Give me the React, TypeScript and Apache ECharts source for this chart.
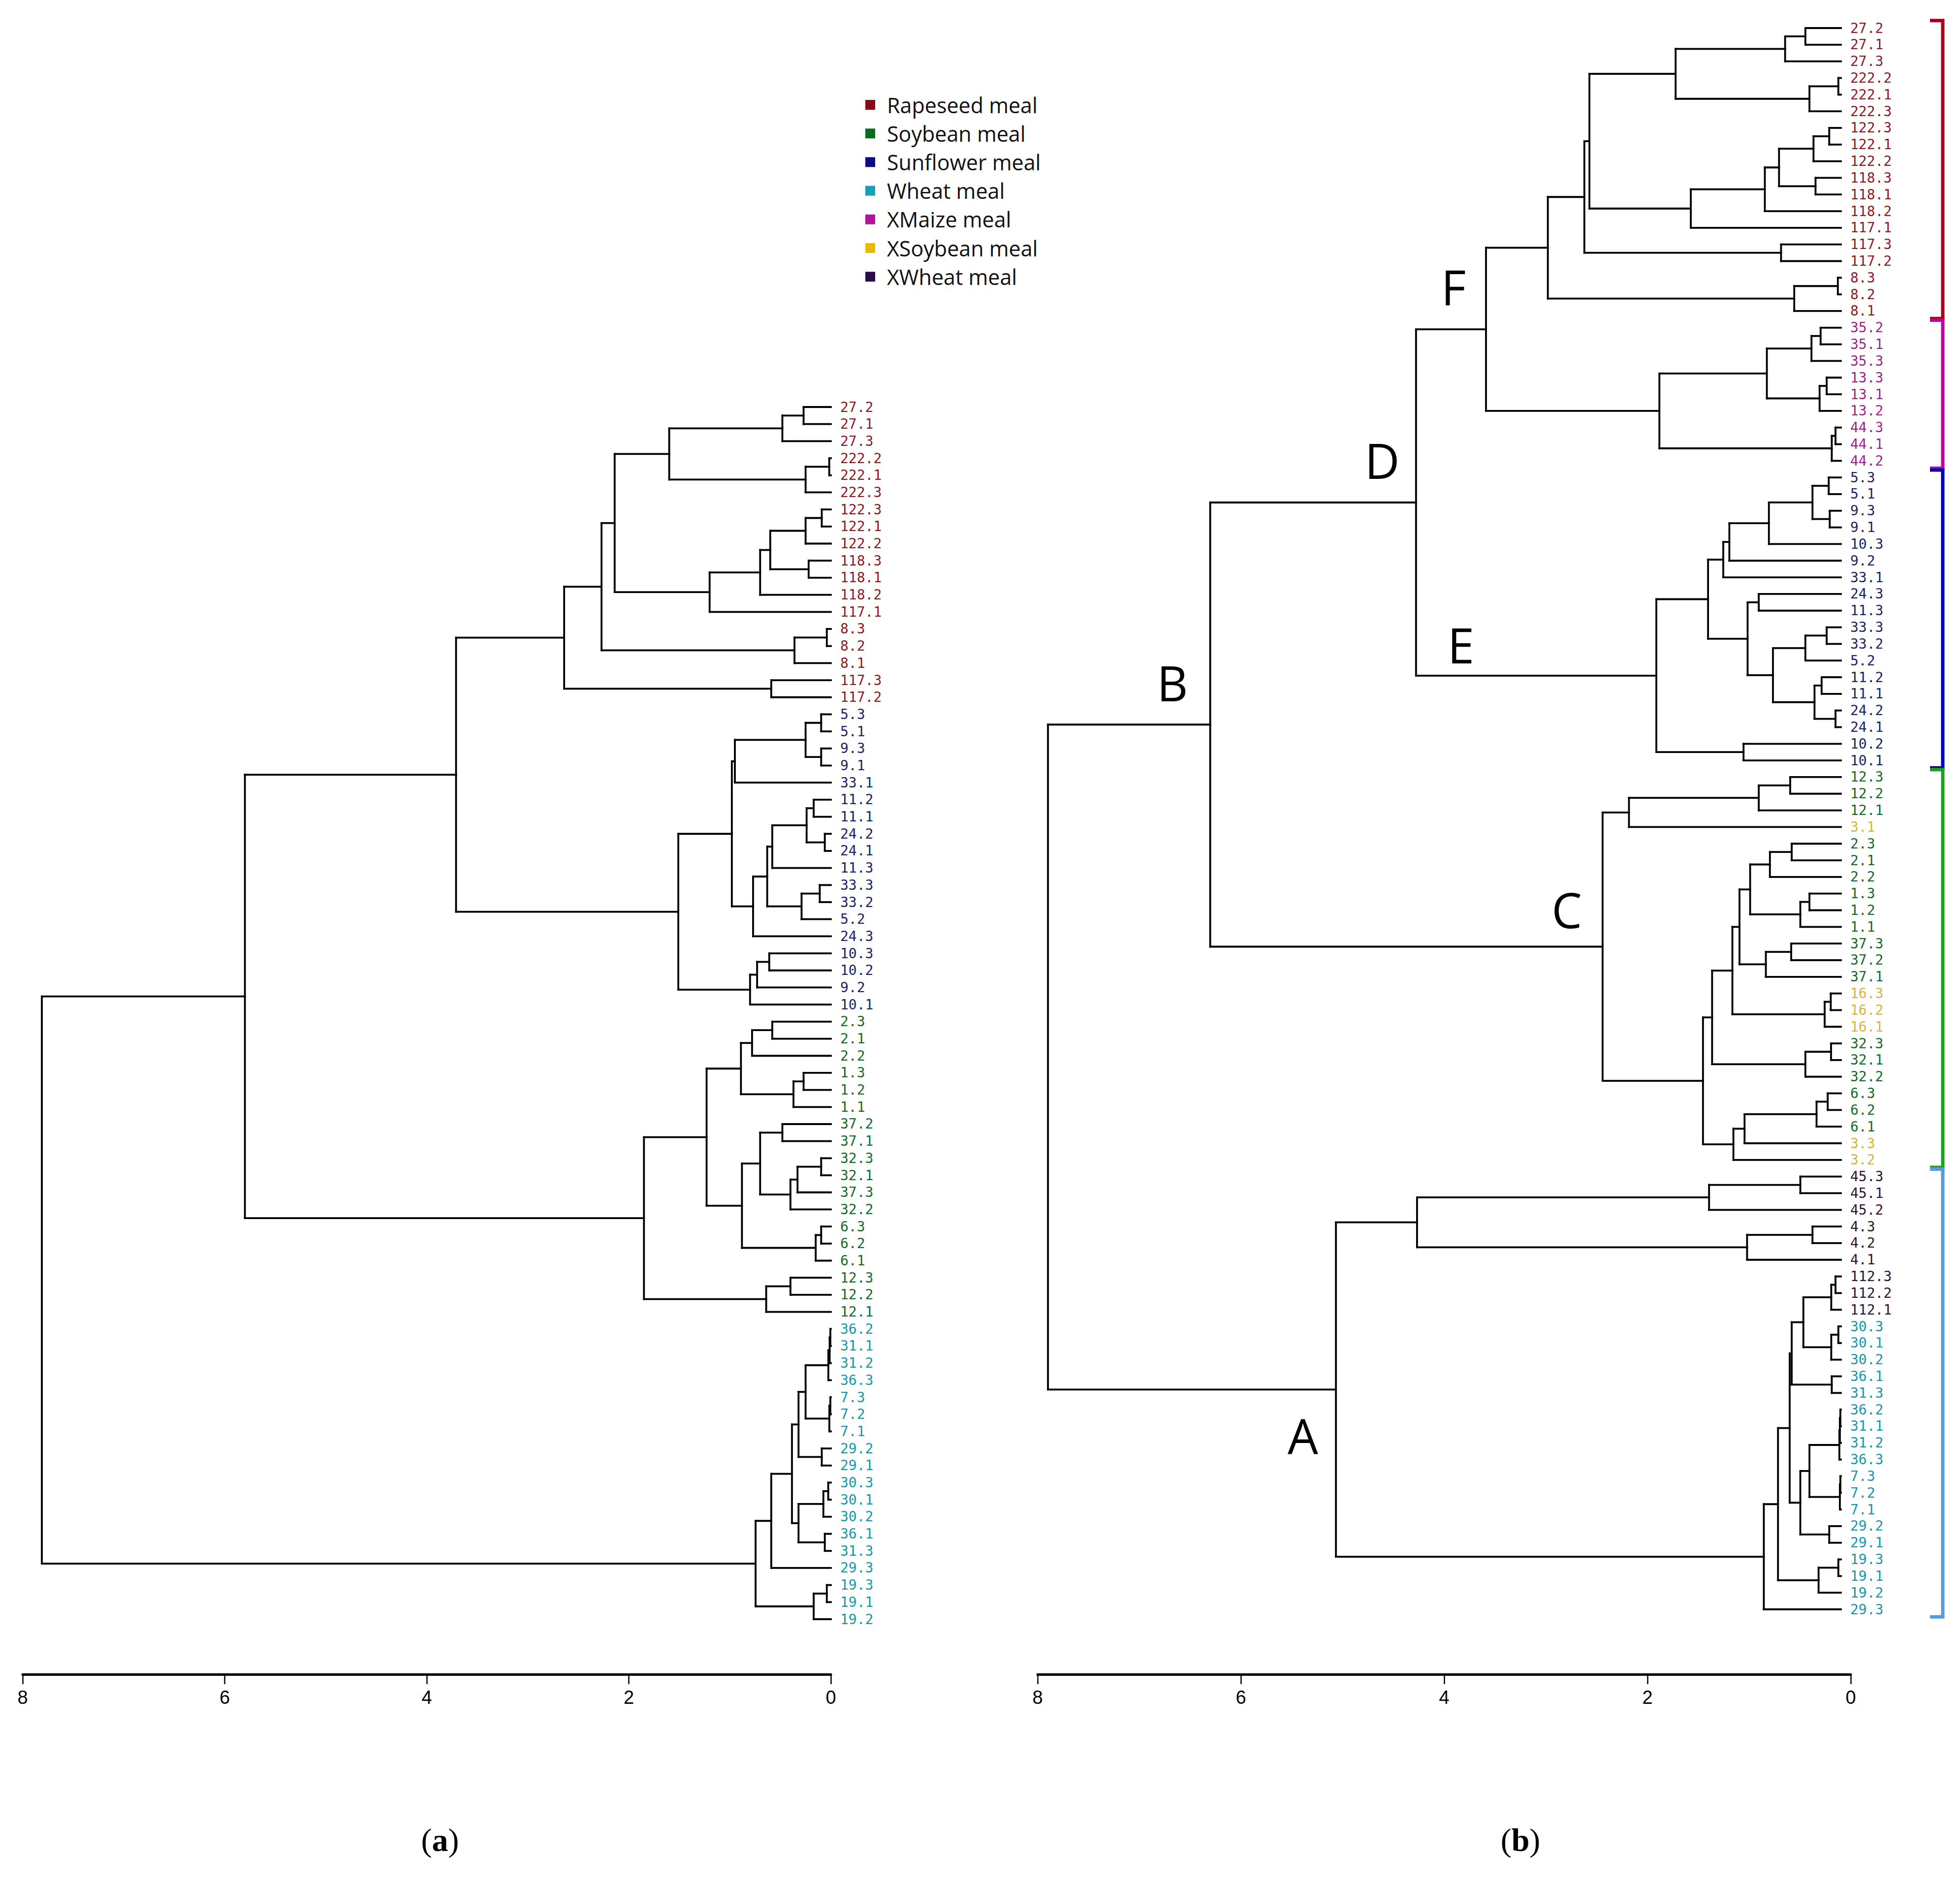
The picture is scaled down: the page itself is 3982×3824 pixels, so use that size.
import React, { useEffect, useRef } from 'react';
import * as echarts from 'echarts';

type Node = string | [number, Node, Node];

// ---------- Panel (a): merge heights ----------
const rapeseedA: Node = [2.64,
  [2.27,
    [2.14,
      [1.60, [0.48, [0.27, '27.2', '27.1'], '27.3'], [0.25, [0.016, '222.2', '222.1'], '222.3']],
      [1.20, [0.70, [0.60, [0.25, [0.09, '122.3', '122.1'], '122.2'], [0.22, '118.3', '118.1']], '118.2'], '117.1']
    ],
    [0.36, [0.04, '8.3', '8.2'], '8.1']
  ],
  [0.59, '117.3', '117.2']
];
const sunflowerA: Node = [1.51,
  [0.98,
    [0.95, [0.25, [0.096, '5.3', '5.1'], [0.096, '9.3', '9.1']], '33.1'],
    [0.77,
      [0.63,
        [0.58, [0.24, [0.17, '11.2', '11.1'], [0.06, '24.2', '24.1']], '11.3'],
        [0.29, [0.11, '33.3', '33.2'], '5.2']
      ],
      '24.3'
    ]
  ],
  [0.80, [0.73, [0.61, '10.3', '10.2'], '9.2'], '10.1']
];
const soybeanA: Node = [1.85,
  [1.23,
    [0.89, [0.78, [0.58, '2.3', '2.1'], '2.2'], [0.37, [0.27, '1.3', '1.2'], '1.1']],
    [0.88,
      [0.70, [0.48, '37.2', '37.1'], [0.40, [0.33, [0.096, '32.3', '32.1'], '37.3'], '32.2']],
      [0.15, [0.096, '6.3', '6.2'], '6.1']
    ]
  ],
  [0.64, [0.40, '12.3', '12.2'], '12.1']
];
const wheatA: Node = [0.745,
  [0.59,
    [0.385,
      [0.32,
        [0.25, [0.025, [0.012, [0.005, '36.2', '31.1'], '31.2'], '36.3'], [0.015, [0.005, '7.3', '7.2'], '7.1']],
        [0.09, '29.2', '29.1']
      ],
      [0.32, [0.074, [0.026, '30.3', '30.1'], '30.2'], [0.06, '36.1', '31.3']]
    ],
    '29.3'
  ],
  [0.17, [0.04, '19.3', '19.1'], '19.2']
];
const treeA: Node = [7.81, [5.80, [3.71, rapeseedA, sunflowerA], soybeanA], wheatA];

// ---------- Panel (b) ----------
const rapeseedB: Node = [2.89,
  [2.53,
    [2.48,
      [1.63, [0.55, [0.35, '27.2', '27.1'], '27.3'], [0.31, [0.025, '222.2', '222.1'], '222.3']],
      [1.48, [0.75, [0.61, [0.27, [0.115, '122.3', '122.1'], '122.2'], [0.25, '118.3', '118.1']], '118.2'], '117.1']
    ],
    [0.59, '117.3', '117.2']
  ],
  [0.46, [0.03, '8.3', '8.2'], '8.1']
];
const maizeB: Node = [1.79,
  [0.73, [0.29, [0.20, '35.2', '35.1'], '35.3'], [0.21, [0.14, '13.3', '13.1'], '13.2']],
  [0.09, [0.053, '44.3', '44.1'], '44.2']
];
const sunflowerB: Node = [1.82,
  [1.31,
    [1.16, [1.10, [0.71, [0.28, [0.12, '5.3', '5.1'], [0.11, '9.3', '9.1']], '10.3'], '9.2'], '33.1'],
    [0.92,
      [0.81, '24.3', '11.3'],
      [0.67, [0.35, [0.14, '33.3', '33.2'], '5.2'], [0.26, [0.19, '11.2', '11.1'], [0.053, '24.2', '24.1']]]
    ]
  ],
  [0.96, '10.2', '10.1']
];
const soybeanB: Node = [2.35,
  [2.09, [0.81, [0.50, '12.3', '12.2'], '12.1'], '3.1'],
  [1.36,
    [1.27,
      [1.07,
        [1.00,
          [0.895, [0.70, [0.485, '2.3', '2.1'], '2.2'], [0.40, [0.31, '1.3', '1.2'], '1.1']],
          [0.74, [0.49, '37.3', '37.2'], '37.1']
        ],
        [0.16, [0.10, '16.3', '16.2'], '16.1']
      ],
      [0.35, [0.097, '32.3', '32.1'], '32.2']
    ],
    [1.06, [0.95, [0.24, [0.13, '6.3', '6.2'], '6.1'], '3.3'], '3.2']
  ]
];
const xwheatB: Node = [4.18, [1.30, [0.40, '45.3', '45.1'], '45.2'], [0.925, [0.28, '4.3', '4.2'], '4.1']];
const wheatB: Node = [0.76,
  [0.62,
    [0.505,
      [0.485,
        [0.37, [0.095, [0.053, '112.3', '112.2'], '112.1'], [0.095, [0.025, '30.3', '30.1'], '30.2']],
        [0.09, '36.1', '31.3']
      ],
      [0.40,
        [0.31, [0.015, [0.01, [0.005, '36.2', '31.1'], '31.2'], '36.3'], [0.01, [0.005, '7.3', '7.2'], '7.1']],
        [0.115, '29.2', '29.1']
      ]
    ],
    [0.22, [0.025, '19.3', '19.1'], '19.2']
  ],
  '29.3'
];
const treeB: Node = [7.82, [6.22, [4.19, [3.50, rapeseedB, maizeB], sunflowerB], soybeanB], [4.98, xwheatB, wheatB]];

// ---------- Groups / colours ----------
const groupNames = ['Rapeseed meal', 'Soybean meal', 'Sunflower meal', 'Wheat meal', 'XMaize meal', 'XSoybean meal', 'XWheat meal'];
const groupIds = [
  ['27', '222', '122', '118', '117', '8'],
  ['2', '1', '37', '32', '6', '12'],
  ['5', '9', '33', '11', '24', '10'],
  ['36', '31', '7', '29', '30', '19'],
  ['35', '13', '44'],
  ['3', '16'],
  ['45', '4', '112'],
];
const legendColors = ['#8B0A12', '#0B6A1E', '#0C0C82', '#1AA0B6', '#B0169C', '#E4BE00', '#2A0C4C'];
const labelColors = ['#8A1A2A', '#136B2E', '#1B2468', '#1399A9', '#A0238A', '#D9B43A', '#2C1438'];

// Bracket clusters on panel (b): leaf index ranges
const bracketRanges = [[0, 17], [18, 26], [27, 44], [45, 68], [69, 95]];
const bracketColors = ['#A8001A', '#C000A2', '#0000B4', '#1FA01F', '#5B9BD5'];

const clusterLetters = ['A', 'B', 'C', 'D', 'E', 'F'];
const axisMin = 0;
const axisMax = 8;
const axisStep = 2;

function colorOf(label: string): string {
  const id = label.split('.')[0];
  const g = groupIds.findIndex((ids) => ids.includes(id));
  return g >= 0 ? labelColors[g] : '#000';
}

function layout(root: Node) {
  const leaves: string[] = [];
  const segs: number[][] = [];
  const walk = (n: Node): { y: number; h: number } => {
    if (typeof n === 'string') {
      leaves.push(n);
      return { y: leaves.length - 1, h: 0 };
    }
    const [h, a, b] = n;
    const ca = walk(a);
    const cb = walk(b);
    segs.push([ca.h, ca.y, h, ca.y]);
    segs.push([cb.h, cb.y, h, cb.y]);
    segs.push([h, ca.y, h, cb.y]);
    return { y: (ca.y + cb.y) / 2, h };
  };
  walk(root);
  return { leaves, segs };
}

export default function App() {
  const ref = useRef<HTMLDivElement>(null);
  useEffect(() => {
    if (!ref.current) return;
    const chart = echarts.init(ref.current, undefined, { renderer: 'svg' });
    const A = layout(treeA);
    const B = layout(treeB);

    const segSeries = (data: number[][], gi: number) => ({
      type: 'custom',
      xAxisIndex: gi,
      yAxisIndex: gi,
      clip: false,
      silent: true,
      data,
      renderItem: (_p: any, api: any) => {
        const p1 = api.coord([api.value(0), api.value(1)]);
        const p2 = api.coord([api.value(2), api.value(3)]);
        return {
          type: 'line',
          shape: { x1: p1[0], y1: p1[1], x2: p2[0], y2: p2[1] },
          style: { stroke: '#000', lineWidth: 3.8, lineCap: 'square' },
        };
      },
    });
    const labelSeries = (leaves: string[], gi: number) => ({
      type: 'custom',
      xAxisIndex: gi,
      yAxisIndex: gi,
      clip: false,
      silent: true,
      data: leaves.map((_l, i) => [0, i]),
      renderItem: (params: any, api: any) => {
        const p = api.coord([0, api.value(1)]);
        const label = leaves[params.dataIndex];
        return {
          type: 'text',
          x: p[0] + 19,
          y: p[1],
          style: {
            text: label,
            fill: colorOf(label),
            font: '28px "DejaVu Sans Mono"',
            align: 'left',
            verticalAlign: 'middle',
            textAlign: 'left',
            textVerticalAlign: 'middle',
          },
        };
      },
    });
    const bracketSeries = {
      type: 'custom',
      xAxisIndex: 1,
      yAxisIndex: 1,
      clip: false,
      silent: true,
      data: bracketRanges.map((r) => [r[0] - 0.45, r[1] + 0.45]),
      renderItem: (params: any, api: any) => {
        const p1 = api.coord([0, api.value(0)]);
        const p2 = api.coord([0, api.value(1)]);
        const xv = p1[0] + 207;
        return {
          type: 'polyline',
          shape: { points: [[xv - 26, p1[1]], [xv, p1[1]], [xv, p2[1]], [xv - 26, p2[1]]] },
          style: { stroke: bracketColors[params.dataIndex], lineWidth: 7, fill: 'none' },
        };
      },
    };

    const hiddenX = { type: 'value', min: axisMin, max: axisMax, inverse: true, show: false };
    const scaleX = (gi: number) => ({
      type: 'value',
      gridIndex: gi,
      min: axisMin,
      max: axisMax,
      interval: axisStep,
      inverse: true,
      position: 'bottom',
      axisLine: { show: true, lineStyle: { color: '#000', width: 5 } },
      axisTick: { show: true, length: 20, lineStyle: { color: '#000', width: 2.5 } },
      axisLabel: { show: true, color: '#000', fontSize: 38, margin: 28, fontFamily: 'Liberation Sans Narrow, Liberation Sans, sans-serif' },
      splitLine: { show: false },
    });

    const graphic: any[] = [];
    groupNames.forEach((name, i) => {
      const y = 213 + i * 58.2;
      graphic.push({ type: 'rect', shape: { x: 1758, y: y - 10, width: 20, height: 20 }, style: { fill: legendColors[i] } });
      graphic.push({
        type: 'text', x: 1802, y,
        style: { text: name, fill: '#111', font: '43px "Open Sans"', align: 'left', verticalAlign: 'middle', textVerticalAlign: 'middle' },
      });
    });
    const letterPos = [[2647, 2916], [2382, 1387], [3183, 1848], [2808, 935], [2968, 1310], [2953, 582]];
    clusterLetters.forEach((t, i) => {
      graphic.push({
        type: 'text', x: letterPos[i][0], y: letterPos[i][1],
        style: { text: t, fill: '#000', font: '98px "Open Sans"', align: 'center', verticalAlign: 'middle', textAlign: 'center', textVerticalAlign: 'middle' },
      });
    });
    [['a', 894], ['b', 3089]].forEach(([t, x]) => {
      graphic.push({
        type: 'text', x: x as number, y: 3738,
        style: {
          text: `{p|(}{b|${t}}{p|)}`,
          rich: {
            p: { font: '66px "Liberation Serif"', fill: '#000' },
            b: { font: 'bold 66px "Liberation Serif"', fill: '#000' },
          },
          fill: '#000', align: 'center', verticalAlign: 'middle', textAlign: 'center', textVerticalAlign: 'middle',
        },
      });
    });

    chart.setOption({
      animation: false,
      backgroundColor: '#fff',
      grid: [
        { left: 46, top: 827, width: 1642, height: 2463 },
        { left: 2092, top: 57, width: 1648, height: 3213 },
        { left: 46, top: 3392, width: 1642, height: 10 },
        { left: 2108, top: 3392, width: 1652, height: 10 },
      ],
      xAxis: [
        { ...hiddenX, gridIndex: 0 },
        { ...hiddenX, gridIndex: 1 },
        scaleX(2),
        scaleX(3),
      ],
      yAxis: [
        { type: 'value', gridIndex: 0, min: 0, max: A.leaves.length - 1, inverse: true, show: false },
        { type: 'value', gridIndex: 1, min: 0, max: B.leaves.length - 1, inverse: true, show: false },
        { type: 'value', gridIndex: 2, min: 0, max: 1, show: false },
        { type: 'value', gridIndex: 3, min: 0, max: 1, show: false },
      ],
      series: [
        segSeries(A.segs, 0),
        segSeries(B.segs, 1),
        labelSeries(A.leaves, 0),
        labelSeries(B.leaves, 1),
        bracketSeries,
      ],
      graphic,
    });
    return () => chart.dispose();
  }, []);
  return <div ref={ref} style={{ position: 'absolute', left: 0, top: 0, width: 3982, height: 3824, background: '#fff' }} />;
}
